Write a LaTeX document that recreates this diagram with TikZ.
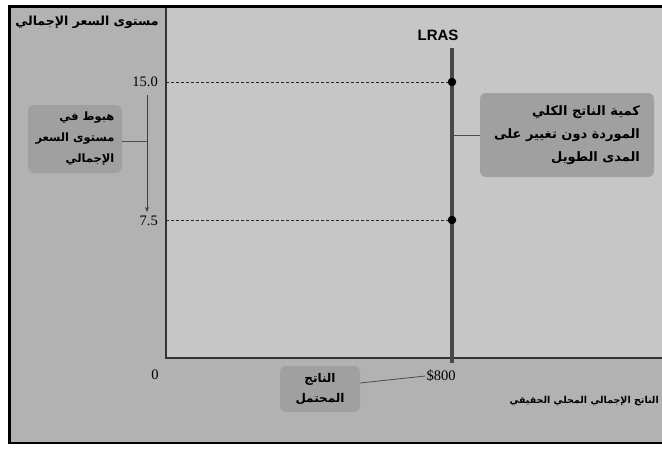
\documentclass[tikz,border=0pt]{standalone}
\usepackage{fontspec}
\setmainfont{Liberation Sans}
\newfontfamily\arabicfont[Script=Arabic]{DejaVu Sans}
\newfontfamily\numfont{Liberation Serif}
\TeXXeTstate=1
\usetikzlibrary{arrows.meta}
\newcommand{\ar}[1]{\beginR #1\endR}
\definecolor{outerbg}{HTML}{B2B2B2}
\definecolor{plotbg}{HTML}{C6C6C6}
\definecolor{boxbg}{HTML}{A0A0A0}
\definecolor{lrascol}{HTML}{484848}
\tikzset{
  note/.style={fill=boxbg, rounded corners=6pt, inner sep=4pt},
  axislabel/.style={font=\arabicfont\bfseries\fontsize{9.5}{12}\selectfont, inner sep=1pt},
  ticklabel/.style={font=\numfont\fontsize{14.5}{16}\selectfont, inner sep=1pt},
  axisline/.style={draw=black!80, line width=1.4pt},
  guide/.style={draw=black!85, line width=1pt, dash pattern=on 2.5pt off 2.5pt},
  leader/.style={draw=black!70, line width=0.8pt},
  dot/.style={circle, fill=black, inner sep=0pt, minimum size=8.5pt}
}
\begin{document}
\begin{tikzpicture}[x=1pt, y=-1pt]
\useasboundingbox (0,0) rectangle (662,450);
% frame and backgrounds
\fill[white] (0,0) rectangle (662,450);
\draw[fill=outerbg, line width=2.6pt] (9.5,6.5) rectangle (680,443);
\fill[plotbg] (166,8) rectangle (662,358);
% axes
\coordinate (origin) at (166,358);
\coordinate (ytop) at (166,8);
\coordinate (xend) at (662,358);
\draw[axisline] (ytop) -- (origin) -- (xend);
% price levels and the long-run supply curve
\coordinate (ltop) at (452,48);
\coordinate (lbot) at (452,363);
\draw[draw=lrascol, line width=3.2pt] (ltop) -- (lbot);
\node[dot] (p15) at (452,82) {};
\node[dot] (p75) at (452,220) {};
\coordinate (y15) at (166,82);
\coordinate (y75) at (166,220);
\draw[guide] (y15) -- (p15);
\draw[guide] (y75) -- (p75);
\node[font=\bfseries\fontsize{15}{17}\selectfont] (lras) at (438,35) {LRAS};
% tick labels
\node[ticklabel, anchor=east] (t15) at (159,82) {15.0};
\node[ticklabel, anchor=east] (t75) at (159,221) {7.5};
\node[ticklabel] (t0) at (155,375) {0};
\node[ticklabel] (t800) at (441,376) {\$800};
% axis titles
\node[axislabel, font=\arabicfont\bfseries\fontsize{12.5}{15}\selectfont] (ylab) at (87,22) {\ar{مستوى السعر الإجمالي}};
\node[axislabel, anchor=east] (xlab) at (660,401) {\ar{الناتج الإجمالي المحلي الحقيقي}};
% fall in the price level
\coordinate (atop) at (147,95);
\coordinate (abot) at (147,212);
\draw[draw=black!75, line width=0.9pt, -{Stealth[length=5pt,width=4pt]}] (atop) -- (abot);
\node[note, align=right, minimum width=94pt, minimum height=68pt,
  font=\arabicfont\bfseries\fontsize{11.5}{21}\selectfont] (fall) at (75,139)
  {\ar{هبوط في}\\\ar{مستوى السعر}\\\ar{الإجمالي}};
\coordinate (amid) at (147,141);
\draw[leader] (fall.east |- amid) -- (amid);
% unchanged long-run output
\node[note, align=right, minimum width=174pt, minimum height=84pt,
  font=\arabicfont\bfseries\fontsize{13}{23}\selectfont] (qty) at (567,135)
  {\ar{كمية الناتج الكلي}\\\ar{الموردة دون تغيير على}\\\ar{المدى الطويل}};
\coordinate (lmid) at (452,135);
\draw[leader] (lmid) -- (qty.west |- lmid);
% potential output
\node[note, align=center, minimum width=80pt, minimum height=46pt,
  font=\arabicfont\bfseries\fontsize{12}{20}\selectfont] (pot) at (320,389)
  {\ar{الناتج}\\\ar{المحتمل}};
\draw[leader] (pot.east) ++(0,-6) -- (t800.west);
\end{tikzpicture}
\end{document}
